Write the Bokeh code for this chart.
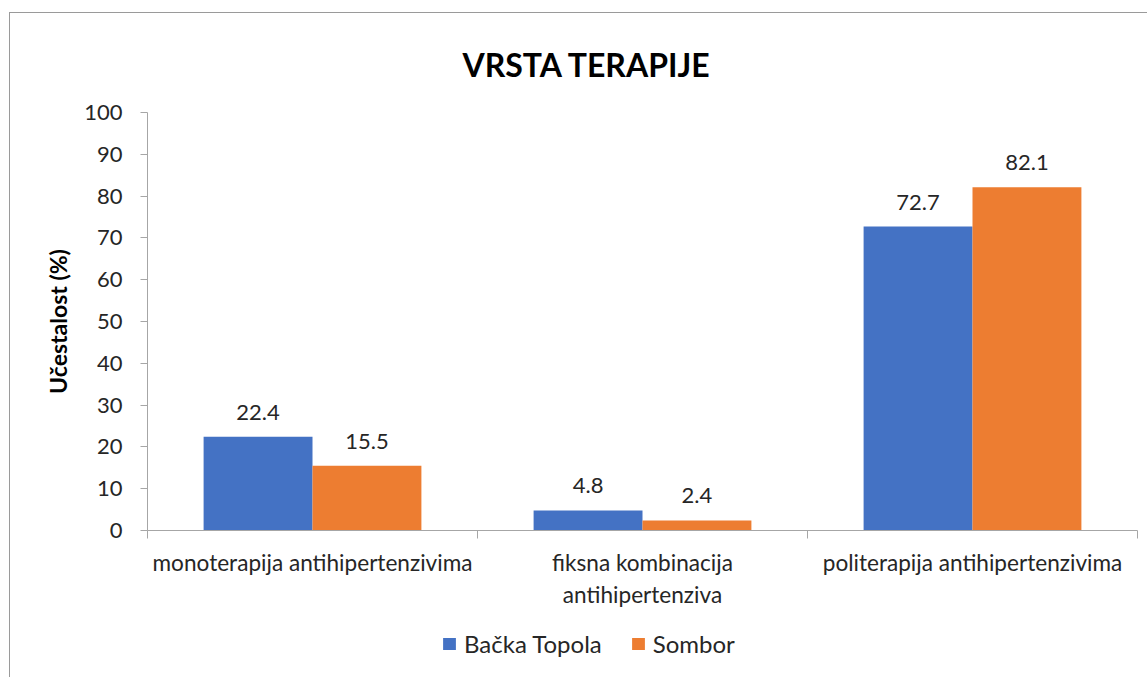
from bokeh.plotting import figure
from bokeh.layouts import column
from bokeh.models import ColumnDataSource, FixedTicker, Legend, LegendItem, Range1d
from bokeh.transform import dodge
from bokeh.embed import file_html
from bokeh.resources import INLINE
from bokeh.core.properties import value

categories = ["monoterapija antihipertenzivima", "fiksna kombinacija\nantihipertenziva", "politerapija antihipertenzivima"]
series_names = ["Bačka Topola", "Sombor"]
backa_topola = [22.4, 4.8, 72.7]
sombor = [15.5, 2.4, 82.1]
y_ticks = [0, 10, 20, 30, 40, 50, 60, 70, 80, 90, 100]

FONT = "Lato"
BLUE = "#4472C4"
ORANGE = "#ED7D31"
AXIS = "#A6A6A6"
TXT = "#262626"

idx = list(range(len(categories)))
src = ColumnDataSource(dict(
    x=idx,
    bt=backa_topola,
    so=sombor,
    bt_lbl=[f"{v:.1f}" for v in backa_topola],
    so_lbl=[f"{v:.1f}" for v in sombor],
))

p = figure(width=1137, height=612, output_backend="svg", toolbar_location=None,
           x_range=Range1d(-0.5, len(categories) - 0.5), y_range=Range1d(0, 100),
           min_border_left=137, min_border_right=10, min_border_top=99, min_border_bottom=95)
p.outline_line_color = None
p.xgrid.visible = False
p.ygrid.visible = False

w = 0.33
r1 = p.vbar(x=dodge("x", -w / 2, range=p.x_range), top="bt", width=w, source=src,
            fill_color=BLUE, line_color=None)
r2 = p.vbar(x=dodge("x", w / 2, range=p.x_range), top="so", width=w, source=src,
            fill_color=ORANGE, line_color=None)

for col, lbl, off in (("bt", "bt_lbl", -w / 2), ("so", "so_lbl", w / 2)):
    p.text(x=dodge("x", off, range=p.x_range), y=col, text=lbl, source=src,
           text_align="center", text_baseline="bottom", y_offset=-17,
           text_font=value(FONT), text_font_size="22px", text_color=TXT)

# title
p.title.text = "VRSTA TERAPIJE"
p.title.align = "left"
p.title.offset = 315
p.title.standoff = 57
p.title.text_font = FONT
p.title.text_font_size = "32px"
p.title.text_font_style = "bold"
p.title.text_color = "#000000"

# y axis
ya = p.yaxis[0]
ya.ticker = FixedTicker(ticks=y_ticks)
ya.axis_label = "Učestalost (%)"
ya.axis_label_text_font = FONT
ya.axis_label_text_font_size = "23px"
ya.axis_label_text_font_style = "bold"
ya.axis_label_text_color = "#000000"
ya.axis_label_standoff = 9
ya.major_label_text_font = FONT
ya.major_label_text_font_size = "22px"
ya.major_label_text_color = TXT
ya.major_label_standoff = 18
ya.axis_line_color = AXIS
ya.major_tick_line_color = AXIS
ya.major_tick_in = 0
ya.major_tick_out = 7
ya.minor_tick_line_color = None

# x axis: labels at category centres, tick marks at category boundaries
xa = p.xaxis[0]
bounds = [i - 0.5 for i in idx] + [idx[-1] + 0.5]
xa.ticker = FixedTicker(ticks=idx, minor_ticks=bounds)
xa.major_label_overrides = {i: c for i, c in zip(idx, categories)}
xa.major_label_text_font = FONT
xa.major_label_text_font_size = "22.6px"
xa.major_label_text_color = TXT
xa.major_label_standoff = 10
xa.major_tick_line_color = None
xa.major_tick_in = 0
xa.major_tick_out = 0
xa.minor_tick_line_color = AXIS
xa.minor_tick_in = 0
xa.minor_tick_out = 8
xa.axis_line_color = AXIS

# legend strip below the chart (its bars lie outside its visible range)
q = figure(width=1137, height=52, output_backend="svg", toolbar_location=None,
           x_range=Range1d(-0.5, len(categories) - 0.5), y_range=Range1d(1000, 1001),
           min_border=0, outline_line_color=None)
q.axis.visible = False
q.grid.visible = False
k1 = q.vbar(x="x", top="bt", width=w, source=src, fill_color=BLUE, line_color=None)
k2 = q.vbar(x="x", top="so", width=w, source=src, fill_color=ORANGE, line_color=None)
legend = Legend(items=[LegendItem(label=series_names[0], renderers=[k1]),
                       LegendItem(label=series_names[1], renderers=[k2])],
                orientation="horizontal", location=(294, 19),
                label_text_font=FONT, label_text_font_size="24px", label_text_color=TXT,
                glyph_width=16, glyph_height=15, label_standoff=7, spacing=28,
                border_line_color=None, background_fill_alpha=0, margin=0, padding=4)
q.add_layout(legend, "center")

layout = column(p, q, spacing=0)
layout.margin = (12, 0, 0, 9)
layout.styles = {"border-top": "1px solid #9a9a9a", "border-left": "1px solid #9a9a9a"}

open("out.html", "w").write(file_html(layout, INLINE))
